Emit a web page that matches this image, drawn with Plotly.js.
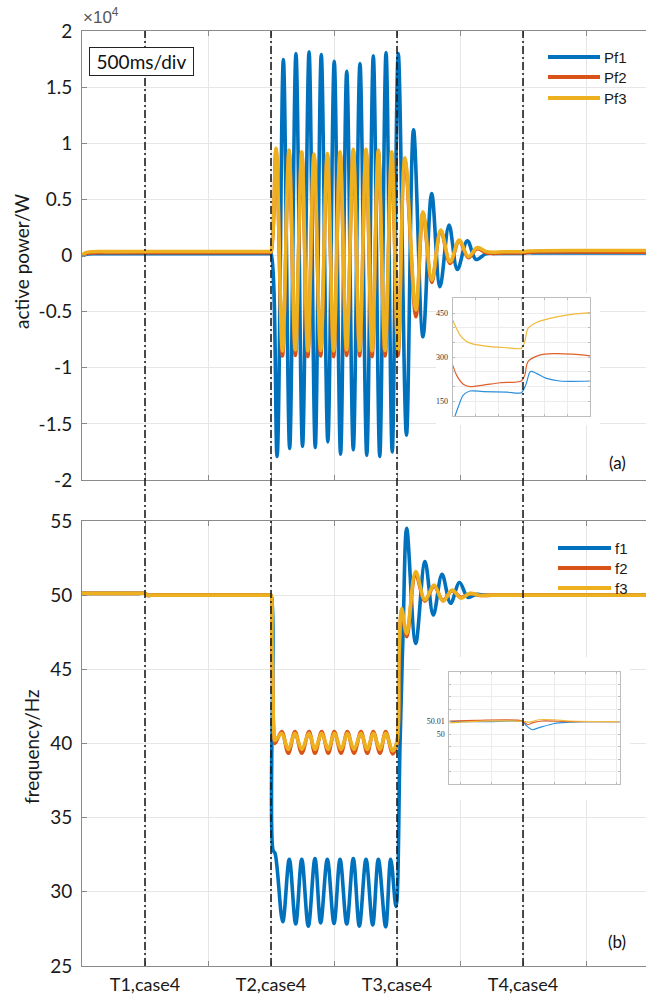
<!DOCTYPE html>
<html><head><meta charset="utf-8">
<script src="https://cdn.plot.ly/plotly-3.0.1.min.js"></script>
<style>html,body{margin:0;padding:0;background:#fff}#chart{width:646px;height:998px}</style>
</head><body><div id="chart"></div>
<script>
// ---- time axis (seconds, 500 ms per division) ----
const eventTimes = [0.5, 1.5, 2.5, 3.5];
const eventText = ['T1,case4', 'T2,case4', 'T3,case4', 'T4,case4'];
const divisionTimes = [0, 1, 2, 3, 4];

// ---- active power (W) ----
const tPf1 = [0, 0.03, 0.08, 0.2, 0.5, 1.0, 1.45, 1.49, 1.5,
  1.548, 1.598, 1.648, 1.698, 1.750, 1.802, 1.851, 1.899, 1.951, 2.002,
  2.052, 2.101, 2.153, 2.206, 2.260, 2.312, 2.363, 2.413, 2.462, 2.510,
  2.575, 2.631, 2.706, 2.775, 2.841, 2.913, 2.979, 3.058, 3.127, 3.206, 3.30, 3.45,
  3.5, 3.53, 3.56, 3.65, 4.0, 4.476];
const Pf1 = [0, 100, 150, 158, 160, 165, 168, 170, 170,
  -17900, 17460, -17200, 18000, -17000, 18140, -17100, 17900, -16600, 17310,
  -17700, 16420, -17300, 17110, -17800, 17780, -17900, 18090, -17500, 18000,
  -16000, 11200, -7240, 5530, -2790, 2710, -1240, 1310, -350, 160, 175, 180,
  180, 250, 240, 220, 219, 219];

const tPf23 = [0, 0.03, 0.08, 0.2, 0.5, 1.0, 1.45, 1.49, 1.5,
  1.540, 1.591, 1.643, 1.693, 1.744, 1.792, 1.841, 1.894, 1.947, 1.997,
  2.048, 2.100, 2.153, 2.203, 2.254, 2.302, 2.352, 2.405, 2.458, 2.508,
  2.563, 2.650, 2.706, 2.776, 2.847, 2.921, 2.994, 3.066, 3.137, 3.214, 3.35, 3.45,
  3.5, 3.52, 3.55, 3.65, 3.9, 4.476];
const Pf2 = [0, 150, 230, 245, 250, 250, 250, 250, 250,
  9300, -8950, 9200, -8900, 9050, -9000, 8850, -8950, 8900, -9000,
  9050, -8900, 9250, -8950, 9250, -9000, 9200, -8950, 9050, -8900,
  8500, -5460, 3800, -2400, 2200, -700, 1300, -200, 600, 230, 222, 220,
  220, 240, 290, 307, 310, 304];
const Pf3 = [0, 250, 340, 348, 350, 350, 350, 350, 350,
  9540, -8500, 9390, -8400, 9230, -8500, 9030, -8450, 9090, -8500,
  9230, -8400, 9450, -8450, 9450, -8500, 9390, -8450, 9230, -8400,
  8700, -4860, 3900, -2200, 2260, -560, 1370, -100, 700, 330, 335, 332,
  330, 360, 400, 425, 443, 452];

// ---- frequency (Hz) ----
const tF1 = [0, 0.25, 0.45, 0.5, 0.52, 0.57, 1.0, 1.45, 1.49, 1.5, 1.516, 1.532,
  1.593, 1.645, 1.696, 1.744, 1.796, 1.849, 1.894, 1.947, 2.0, 2.048,
  2.101, 2.153, 2.201, 2.254, 2.307, 2.352, 2.410, 2.450, 2.492,
  2.524, 2.548, 2.577, 2.648, 2.722, 2.788, 2.857, 2.925, 2.996, 3.063, 3.127, 3.21, 3.6, 4.476];
const f1 = [50.12, 50.12, 50.12, 50.12, 50.0, 50.0, 50.0, 50.0, 50.0, 50.0, 32.8, 32.6,
  27.98, 32.2, 27.83, 32.2, 27.69, 32.25, 27.91, 32.2, 27.87, 32.2,
  27.83, 32.25, 27.69, 32.2, 27.76, 32.2, 27.64, 32.2, 29.0,
  40.0, 47.5, 54.5, 46.75, 52.26, 48.66, 51.4, 49.45, 50.85, 49.85, 50.05, 50.0, 50.0, 50.0];

const tF23 = [0, 0.25, 0.45, 0.5, 0.52, 0.57, 1.0, 1.45, 1.49, 1.5, 1.508, 1.524, 1.532,
  1.585, 1.637, 1.690, 1.744, 1.802, 1.849, 1.902, 1.955, 2.002, 2.056,
  2.106, 2.159, 2.214, 2.264, 2.312, 2.365, 2.410, 2.466, 2.500,
  2.516, 2.537, 2.577, 2.648, 2.722, 2.794, 2.865, 2.937, 3.008, 3.079, 3.16, 3.25, 3.6, 4.476];
const f2 = [50.12, 50.12, 50.12, 50.12, 50.0, 50.0, 50.0, 50.0, 50.0, 50.0, 46.5, 40.4, 40.0,
  40.8, 39.34, 40.8, 39.34, 40.8, 39.34, 40.8, 39.34, 40.8, 39.34,
  40.8, 39.34, 40.8, 39.34, 40.8, 39.34, 40.8, 39.3, 40.0,
  45.5, 48.8, 47.2, 51.4, 49.6, 50.6, 49.65, 50.3, 49.85, 50.1, 49.98, 50.0, 50.0, 50.0];
const f3 = [50.12, 50.12, 50.12, 50.12, 50.0, 50.0, 50.0, 50.0, 50.0, 50.0, 47.0, 40.6, 40.2,
  40.68, 39.6, 40.68, 39.6, 40.68, 39.6, 40.68, 39.6, 40.68, 39.6,
  40.68, 39.6, 40.68, 39.6, 40.68, 39.6, 40.68, 39.5, 40.2,
  46.0, 49.1, 47.4, 51.6, 49.67, 50.68, 49.6, 50.34, 49.8, 50.12, 49.98, 50.0, 50.0, 50.0];

// ---- detail view of active power around T4 ----
const zPfX1 = [0.1, 0.25, 0.46, 0.75, 1.33, 2.36, 3.0, 3.19, 3.4, 3.66, 4.1, 4.68, 6.0];
const zPf1  = [100, 132, 171, 185, 183, 181, 179, 205, 251, 245, 228, 219, 219];
const zPfX2 = [0, 0.17, 0.46, 0.75, 1.33, 2.07, 3.0, 3.15, 3.29, 3.8, 4.38, 5.25, 6.0];
const zPf2  = [273, 239, 208, 200, 205, 213, 219, 239, 285, 307, 312, 310, 304];
const zPfX3 = [0, 0.32, 0.61, 0.9, 1.63, 2.36, 3.0, 3.15, 3.29, 3.66, 4.25, 4.98, 6.0];
const zPf3  = [426, 375, 353, 344, 336, 332, 330, 353, 398, 418, 432, 443, 451];
const zPfLabelVals = [150, 300, 450];
const zPfGridVals = [100, 150, 200, 250, 300, 350, 400, 450, 500];

// ---- detail view of frequency around T4 ----
const zFX1 = [-0.35, 1.0, 2.0, 2.1, 2.3, 2.5, 3.0, 3.5, 4.0, 5.1];
const zF1  = [50.010, 50.010, 50.010, 50.007, 50.0035, 50.005, 50.0085, 50.0095, 50.010, 50.010];
const zFX2 = [-0.35, 0.5, 2.0, 2.15, 2.3, 2.6, 3.5, 5.1];
const zF2  = [50.0105, 50.011, 50.0105, 50.0075, 50.009, 50.0105, 50.010, 50.010];
const zFX3 = [-0.35, 0.5, 2.0, 2.2, 2.5, 3.0, 3.5, 5.1];
const zF3  = [50.009, 50.0102, 50.0102, 50.0095, 50.0115, 50.0115, 50.0105, 50.010];
const zFLabelVals = [50.0, 50.01];
const zFLabelText = ['50', '50.01'];
const zFGridVals = [49.96, 49.97, 49.98, 49.99, 50.0, 50.01, 50.02, 50.03, 50.04, 50.05];

const seriesNames = { p: ['Pf1', 'Pf2', 'Pf3'], f: ['f1', 'f2', 'f3'] };
const axisTitles = ['active power/W', 'frequency/Hz'];
const colors = ['#0072BD', '#D95319', '#EDB120'];
const zoomColors = ['#2D8FDA', '#E0602A', '#F0BA3A'];

// ---- page geometry ----
const W = 646, H = 998, ML = 82, MR = 0, MT = 31, MB = 32;
const PW = W - ML - MR, PH = H - MT - MB;
const fx = px => (px - ML) / PW;
const fy = py => (H - MB - py) / PH;

const mainLine = (x, y, c, xa, ya) => ({
  x, y, xaxis: xa, yaxis: ya, type: 'scatter', mode: 'lines', showlegend: false,
  line: { color: c, width: 3.6, shape: 'spline', smoothing: 1 }, hoverinfo: 'skip'
});
const zoomLine = (x, y, c, xa, ya) => ({
  x, y, xaxis: xa, yaxis: ya, type: 'scatter', mode: 'lines', showlegend: false,
  line: { color: c, width: 1.2, shape: 'spline', smoothing: 0.8 }, hoverinfo: 'skip'
});
const blank = (xa, ya) => ({ x: [], y: [], xaxis: xa, yaxis: ya, type: 'scatter', mode: 'lines',
  showlegend: false, hoverinfo: 'skip' });

const traces = [
  mainLine(tPf1, Pf1, colors[0], 'x', 'y'),
  mainLine(tPf23, Pf2, colors[1], 'x', 'y'),
  mainLine(tPf23, Pf3, colors[2], 'x', 'y'),
  mainLine(tF1, f1, colors[0], 'x2', 'y2'),
  mainLine(tF23, f2, colors[1], 'x2', 'y2'),
  mainLine(tF23, f3, colors[2], 'x2', 'y2'),
  blank('x3', 'y3'),
  blank('x4', 'y4'),
  zoomLine(zPfX1, zPf1, zoomColors[0], 'x5', 'y5'),
  zoomLine(zPfX2, zPf2, zoomColors[1], 'x5', 'y5'),
  zoomLine(zPfX3, zPf3, zoomColors[2], 'x5', 'y5'),
  zoomLine(zFX1, zF1, zoomColors[0], 'x6', 'y6'),
  zoomLine(zFX2, zF2, zoomColors[1], 'x6', 'y6'),
  zoomLine(zFX3, zF3, zoomColors[2], 'x6', 'y6')
];

const axisGray = '#8a8a8a';
const gridGray = '#e6e6e6';
const labelFont = { family: 'Lato, "Open Sans", sans-serif', size: 19, color: '#1a1a1a' };
const timeFont = { family: 'Lato, "Open Sans", sans-serif', size: 18, color: '#1a1a1a' };

const timeAxis = (anchor, showLabels) => ({
  domain: [0, 1], anchor, range: [0, 4.476],
  tickmode: 'array', tickvals: eventTimes, ticktext: eventText, showticklabels: showLabels,
  ticks: 'inside', ticklen: 5, tickcolor: axisGray, tickfont: timeFont, ticklabelstandoff: 2,
  minor: { tickmode: 'array', tickvals: divisionTimes, ticks: 'inside', ticklen: 5, tickcolor: axisGray,
    showgrid: true, gridcolor: gridGray },
  showline: true, linecolor: axisGray, linewidth: 1, mirror: 'ticks',
  showgrid: true, gridcolor: gridGray, zeroline: false, fixedrange: true
});

const pTickVals = [-20000, -15000, -10000, -5000, 0, 5000, 10000, 15000, 20000];
const pTickText = ['-2', '-1.5', '-1', '-0.5', '0', '0.5', '1', '1.5', '2'];
const fTickVals = [25, 30, 35, 40, 45, 50, 55];

const valueAxis = (domain, anchor, range, vals, text) => ({
  domain, anchor, range, tickmode: 'array', tickvals: vals, ticktext: text,
  ticks: 'inside', ticklen: 5, tickcolor: axisGray, tickfont: labelFont, ticklabelstandoff: 5,
  showline: true, linecolor: axisGray, linewidth: 1, mirror: false,
  showgrid: true, gridcolor: gridGray, zeroline: false, fixedrange: true
});

// plain white panels that carry the detail views
const panelAxis = (domain, anchor) => ({
  domain, anchor, range: [0, 1], visible: false, showgrid: false, zeroline: false, fixedrange: true
});

const zoomX = (domain, anchor, range) => ({
  domain, anchor, range, dtick: 1, tick0: 0, showticklabels: false,
  ticks: 'inside', ticklen: 2, tickcolor: '#bbb',
  showline: true, linecolor: '#bdbdbd', mirror: 'ticks',
  showgrid: true, gridcolor: '#ececec', zeroline: false, fixedrange: true
});
const zoomY = (domain, anchor, range, vals, text, grid) => ({
  domain, anchor, range, tickmode: 'array', tickvals: vals, ticktext: text,
  tickfont: { family: '"Liberation Serif", serif', size: 8, color: '#333' }, ticklabelstandoff: 2,
  ticks: 'inside', ticklen: 2, tickcolor: '#bbb',
  minor: { tickmode: 'array', tickvals: grid, ticks: 'inside', ticklen: 2, tickcolor: '#bbb',
    showgrid: true, gridcolor: '#ececec' },
  showline: true, linecolor: '#bdbdbd', mirror: 'ticks',
  showgrid: true, gridcolor: '#ececec', zeroline: false, fixedrange: true
});

const topDomain = [fy(480), 1];
const botDomain = [0, fy(521)];

const shapes = [];
// event markers across both panels
eventTimes.forEach(t => shapes.push({
  type: 'line', xref: 'x2', yref: 'paper', x0: t, x1: t, y0: 0, y1: 1, layer: 'above',
  line: { color: '#1e1e1e', width: 1.6, dash: '8px,3px,2px,3px' }
}));

// legends drawn as sample lines with labels
const legendFont = { family: '"Liberation Sans", Arial, sans-serif', size: 15, color: '#1a1a1a' };
const annotations = [];
const legendRows = [
  { names: seriesNames.p, x0: 548, x1: 600, rows: [57, 77, 98] },
  { names: seriesNames.f, x0: 558, x1: 611, rows: [548, 568, 588] }
];
legendRows.forEach(g => g.names.forEach((n, i) => {
  shapes.push({ type: 'line', xref: 'paper', yref: 'paper', layer: 'above',
    x0: fx(g.x0), x1: fx(g.x1), y0: fy(g.rows[i]), y1: fy(g.rows[i]),
    line: { color: colors[i], width: 4 } });
  annotations.push({ xref: 'paper', yref: 'paper', x: fx(g.x1 + 2), y: fy(g.rows[i]),
    xanchor: 'left', yanchor: 'middle', text: n, showarrow: false, font: legendFont });
}));

// axis titles
annotations.push({ xref: 'paper', yref: 'paper', x: fx(21), y: fy(262), xanchor: 'center', yanchor: 'middle',
  text: axisTitles[0], textangle: -90, showarrow: false, font: labelFont });
annotations.push({ xref: 'paper', yref: 'paper', x: fx(31), y: fy(747), xanchor: 'center', yanchor: 'middle',
  text: axisTitles[1], textangle: -90, showarrow: false, font: labelFont });

annotations.push({ xref: 'paper', yref: 'paper', x: fx(81), y: fy(29), xanchor: 'left', yanchor: 'bottom',
  text: '×10<sup>4</sup>', showarrow: false,
  font: { family: '"Liberation Sans", Arial, sans-serif', size: 17, color: '#555' } });
annotations.push({ xref: 'paper', yref: 'paper', x: fx(89), y: fy(47), xanchor: 'left', yanchor: 'top',
  text: '500ms/div', showarrow: false, bgcolor: '#fff', bordercolor: '#222', borderwidth: 1, borderpad: 1,
  width: 101, height: 25,
  font: { family: 'Lato, sans-serif', size: 19, color: '#111' } });
annotations.push({ xref: 'paper', yref: 'paper', x: fx(628), y: fy(462), xanchor: 'right', yanchor: 'middle',
  text: '(a)', showarrow: false, font: { family: 'Lato, sans-serif', size: 17, color: '#111' } });
annotations.push({ xref: 'paper', yref: 'paper', x: fx(628), y: fy(941), xanchor: 'right', yanchor: 'middle',
  text: '(b)', showarrow: false, font: { family: 'Lato, sans-serif', size: 17, color: '#111' } });

const layout = {
  width: W, height: H, margin: { l: ML, r: MR, t: MT, b: MB, pad: 0 },
  paper_bgcolor: '#fff', plot_bgcolor: '#fff', showlegend: false,
  xaxis: timeAxis('y', false),
  yaxis: valueAxis(topDomain, 'x', [-20000, 20000], pTickVals, pTickText),
  xaxis2: Object.assign(timeAxis('y2', true), { matches: 'x' }),
  yaxis2: valueAxis(botDomain, 'x2', [25, 55], fTickVals, fTickVals.map(String)),
  xaxis3: panelAxis([fx(436), fx(600)], 'y3'),
  yaxis3: panelAxis([fy(425), fy(293)], 'x3'),
  xaxis4: panelAxis([fx(420), fx(630)], 'y4'),
  yaxis4: panelAxis([fy(800), fy(657)], 'x4'),
  xaxis5: zoomX([fx(452.7), fx(590)], 'y5', [0, 6]),
  yaxis5: zoomY([fy(416), fy(298.3)], 'x5', [100, 500], zPfLabelVals, zPfLabelVals.map(String), zPfGridVals),
  xaxis6: zoomX([fx(449.3), fx(620)], 'y6', [-0.35, 5.1]),
  yaxis6: zoomY([fy(784), fy(671.7)], 'x6', [49.96, 50.05], zFLabelVals, zFLabelText, zFGridVals),
  shapes, annotations
};

Plotly.newPlot('chart', traces, layout, { staticPlot: true, displayModeBar: false });
</script></body></html>
